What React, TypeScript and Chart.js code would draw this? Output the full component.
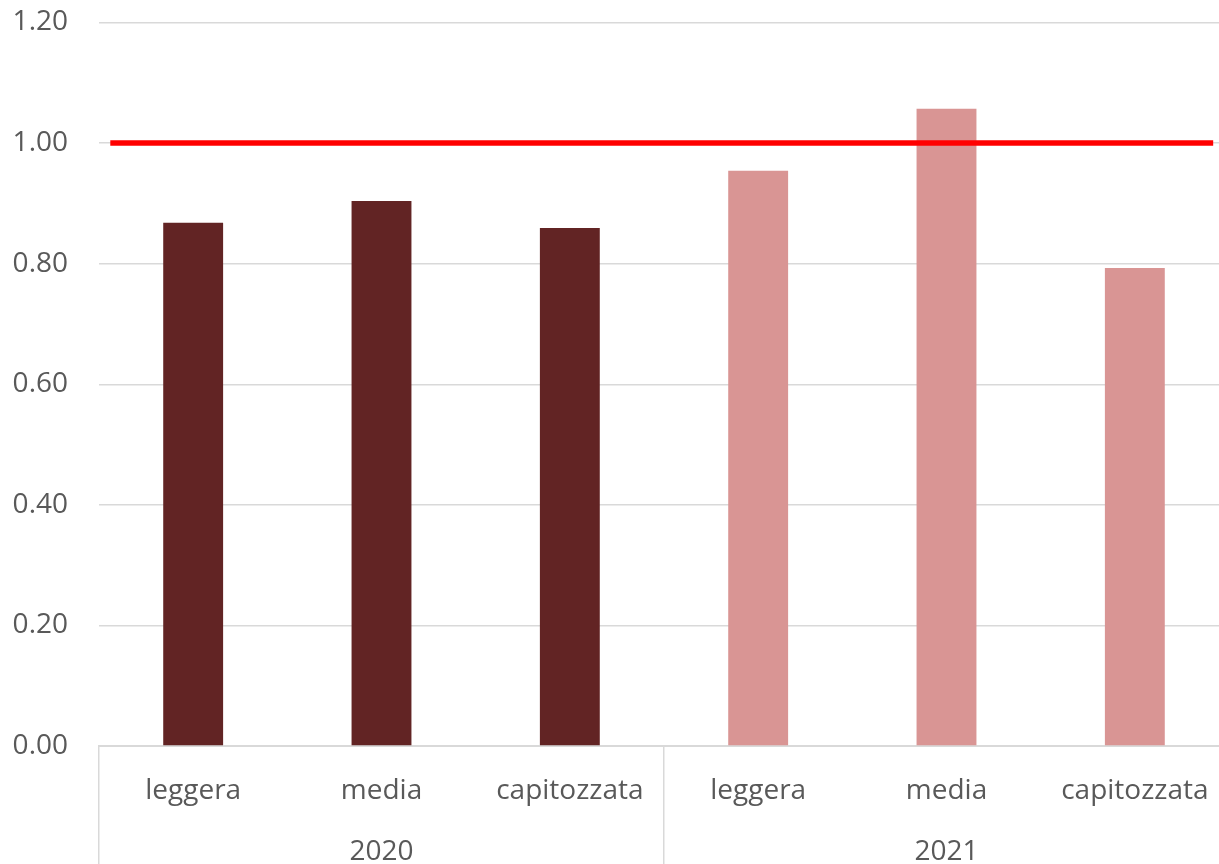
import React, { useEffect, useRef } from "react";
import { Chart, registerables } from "chart.js";

Chart.register(...registerables);

const categories = ["leggera", "media", "capitozzata", "leggera", "media", "capitozzata"];
const years = ["", "2020", "", "", "2021", ""];
const values2020 = [0.868, 0.904, 0.859, null, null, null];
const values2021 = [null, null, null, 0.954, 1.057, 0.793];
const thresholdX = [1, 98.6];
const thresholdY = [1.0, 1.0];
const yTicks = [0, 0.2, 0.4, 0.6, 0.8, 1.0, 1.2];

export default function App() {
  const ref = useRef<HTMLCanvasElement | null>(null);

  useEffect(() => {
    if (!ref.current) return;
    const labels = categories.map((c, i) => [c, years[i]]);
    const chart = new Chart(ref.current, {
      type: "bar",
      data: {
        labels,
        datasets: [
          {
            type: "line",
            label: "soglia",
            xAxisID: "x2",
            data: thresholdX.map((x, i) => ({ x, y: thresholdY[i] })),
            borderColor: "#FF0000",
            borderWidth: 5.5,
            pointRadius: 0,
            borderCapStyle: "butt",
            order: 0,
          } as any,
          {
            label: "2020",
            data: values2020,
            backgroundColor: "#622424",
            grouped: false,
            barPercentage: 0.318,
            categoryPercentage: 1,
            order: 1,
          } as any,
          {
            label: "2021",
            data: values2021,
            backgroundColor: "#D99594",
            grouped: false,
            barPercentage: 0.318,
            categoryPercentage: 1,
            order: 1,
          } as any,
        ],
      },
      options: {
        responsive: false,
        animation: false,
        devicePixelRatio: 1,
        layout: { padding: { top: 0, right: 0, bottom: 0, left: 0 } },
        plugins: {
          legend: { display: false },
          tooltip: { enabled: false },
        },
        scales: {
          x: {
            type: "category",
            position: "bottom",
            offset: true,
            afterFit: (scale: any) => {
              scale.height = 118;
            },
            border: { display: true, color: "#D9D9D9", width: 2 },
            grid: {
              display: true,
              offset: true,
              drawOnChartArea: false,
              drawTicks: true,
              tickLength: 118,
              lineWidth: 1.5,
              color: (ctx: any) => {
                const i = ctx.index;
                if (i === undefined || i === 0 || i === 3 || i === 6) return "#D9D9D9";
                return "rgba(0,0,0,0)";
              },
            },
            ticks: {
              color: "#595959",
              padding: -103,
              maxRotation: 0,
              autoSkip: false,
              font: { family: "'Open Sans', sans-serif", size: 28, lineHeight: "61px" },
            },
          },
          x2: {
            type: "linear",
            display: false,
            offset: false,
            grid: { offset: false },
            min: 0,
            max: 100,
          },
          y: {
            type: "linear",
            min: 0,
            max: 1.2,
            afterFit: (scale: any) => {
              scale.width = 99;
              scale.paddingTop = 22.5;
              scale.paddingBottom = 0;
            },
            afterBuildTicks: (scale: any) => {
              scale.ticks = yTicks.map((v) => ({ value: v }));
            },
            border: { display: false },
            grid: { color: "#D9D9D9", lineWidth: 1.5, drawTicks: false },
            ticks: {
              color: "#595959",
              padding: 31,
              stepSize: 0.2,
              font: { family: "'Open Sans', sans-serif", size: 28 },
              callback: (v: any) => Number(v).toFixed(2),
            },
          },
        },
      },
    });
    return () => chart.destroy();
  }, []);

  return (
    <div
      style={{
        position: "fixed",
        top: 0,
        left: 0,
        width: 1219,
        height: 864,
        overflow: "hidden",
        background: "#FFFFFF",
      }}
    >
      <canvas ref={ref} width={1229} height={864} style={{ display: "block" }} />
    </div>
  );
}
